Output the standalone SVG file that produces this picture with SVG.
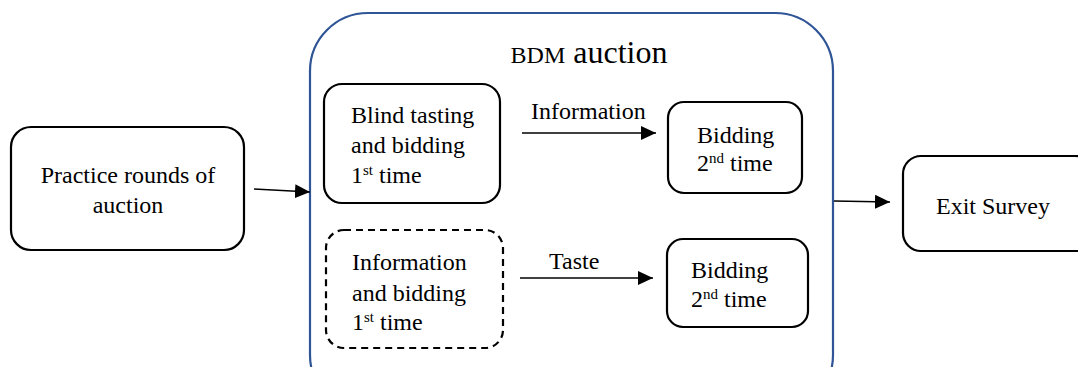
<svg xmlns="http://www.w3.org/2000/svg" width="1078" height="367" viewBox="0 0 1078 367">
<defs>
<marker id="ah" markerWidth="15" markerHeight="14" refX="15" refY="7" orient="auto" markerUnits="userSpaceOnUse" viewBox="0 0 15 14">
<path d="M0,0 L15,7 L0,14 z" fill="#000"/>
</marker>
</defs>
<rect width="1078" height="367" fill="#fff"/>
<g id="bdm">
<rect x="310" y="13" width="523" height="400" rx="58" fill="#fff" stroke="#2f5597" stroke-width="2.2"/>
<text x="589" y="63" text-anchor="middle" font-family="'Liberation Serif', 'Times New Roman', serif" font-size="32"><tspan font-size="24">BDM</tspan> auction</text>
</g>
<g id="practice" fill="#fff" stroke="#000" stroke-width="2.2">
<rect x="11" y="127" width="233" height="123" rx="20"/>
</g>
<g id="blind" fill="#fff" stroke="#000" stroke-width="2.2">
<rect x="324" y="84" width="176" height="119" rx="18"/>
</g>
<g id="bid2a" fill="#fff" stroke="#000" stroke-width="2.2">
<rect x="668" y="102" width="134" height="91" rx="16"/>
</g>
<g id="info" fill="#fff" stroke="#000" stroke-width="2.2">
<rect x="326" y="230" width="177" height="118" rx="18" stroke-dasharray="7,5"/>
</g>
<g id="bid2b" fill="#fff" stroke="#000" stroke-width="2.2">
<rect x="667" y="239" width="141" height="88" rx="16"/>
</g>
<g id="exit" fill="#fff" stroke="#000" stroke-width="2.2">
<rect x="903" y="156" width="190" height="95" rx="18"/>
</g>
<g id="connectors" stroke="#000" stroke-width="1.3" fill="none">
<line x1="254" y1="189" x2="310" y2="192" marker-end="url(#ah)"/>
<line x1="522" y1="133" x2="656" y2="133" marker-end="url(#ah)"/>
<line x1="520" y1="278" x2="653" y2="278" marker-end="url(#ah)"/>
<line x1="834" y1="201" x2="890" y2="202" marker-end="url(#ah)"/>
</g>
<g id="labels" font-family="'Liberation Serif', 'Times New Roman', serif" font-size="24" fill="#000">
<text x="128" y="183" text-anchor="middle">Practice rounds of</text>
<text x="128" y="213" text-anchor="middle">auction</text>
<text x="351" y="123">Blind tasting</text>
<text x="351" y="153">and bidding</text>
<text x="351" y="183">1<tspan font-size="15" dy="-8">st</tspan><tspan dy="8"> time</tspan></text>
<text x="697" y="143">Bidding</text>
<text x="697" y="171">2<tspan font-size="15" dy="-8">nd</tspan><tspan dy="8"> time</tspan></text>
<text x="352" y="270">Information</text>
<text x="352" y="301">and bidding</text>
<text x="352" y="330">1<tspan font-size="15" dy="-8">st</tspan><tspan dy="8"> time</tspan></text>
<text x="691" y="278">Bidding</text>
<text x="691" y="307">2<tspan font-size="15" dy="-8">nd</tspan><tspan dy="8"> time</tspan></text>
<text x="993" y="214" text-anchor="middle">Exit Survey</text>
<text x="531" y="119">Information</text>
<text x="549" y="269">Taste</text>
</g>
</svg>
